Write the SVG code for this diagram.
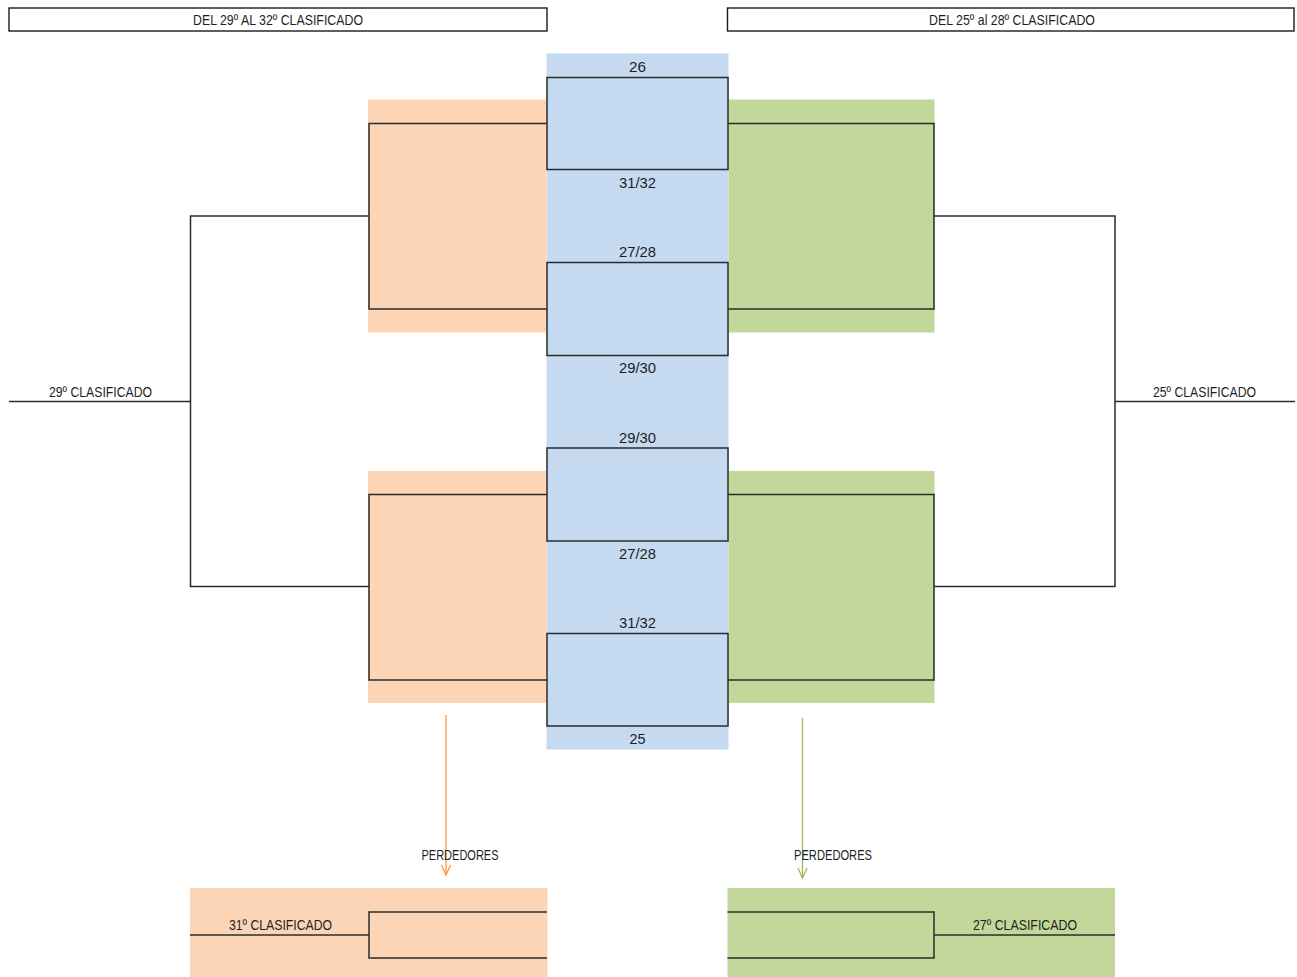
<svg xmlns="http://www.w3.org/2000/svg" width="1297" height="977" viewBox="0 0 1297 977">
<style>
  .bg{fill:#ffffff}
  .or{fill:#FBD5B5}
  .gr{fill:#C4D79B}
  .bl{fill:#C5D9F1}
  .ln{fill:none;stroke:#2b2b2b;stroke-width:1.5}
  .hdr{fill:#ffffff;stroke:#1a1a1a;stroke-width:1.4}
  .t{font-family:"Liberation Sans",Arial,sans-serif;font-size:15px;fill:#1e1e1e;text-anchor:middle}
  .arO{stroke:#F79646;stroke-width:1.3;fill:none}
  .arG{stroke:#9BBB59;stroke-width:1.3;fill:none}
</style>
<defs>
  <marker id="mO" markerUnits="userSpaceOnUse" markerWidth="12" markerHeight="12" viewBox="0 0 12 12" refX="11" refY="6" orient="auto">
    <path d="M1,1.5 L11,6 L1,10.5" class="arO"/>
  </marker>
  <marker id="mG" markerUnits="userSpaceOnUse" markerWidth="12" markerHeight="12" viewBox="0 0 12 12" refX="11" refY="6" orient="auto">
    <path d="M1,1.5 L11,6 L1,10.5" class="arG"/>
  </marker>
</defs>
<rect class="bg" x="0" y="0" width="1297" height="977"/>

<g id="header-left">
  <rect class="hdr" x="9" y="8" width="538" height="23"/>
  <text class="t" x="278" y="25" textLength="170" lengthAdjust="spacingAndGlyphs">DEL 29º AL 32º CLASIFICADO</text>
</g>
<g id="header-right">
  <rect class="hdr" x="727.5" y="8" width="566.5" height="23"/>
  <text class="t" x="1012" y="25" textLength="166" lengthAdjust="spacingAndGlyphs">DEL 25º al 28º CLASIFICADO</text>
</g>

<g id="backgrounds">
  <rect class="bl" x="546.5" y="53.5" width="182" height="696"/>
  <rect class="or" x="368" y="99.5" width="178.5" height="233"/>
  <rect class="or" x="368" y="471" width="178.5" height="232"/>
  <rect class="gr" x="728.5" y="99.5" width="206" height="233"/>
  <rect class="gr" x="728.5" y="471" width="206" height="232"/>
  <rect class="or" x="190" y="888" width="357.5" height="89"/>
  <rect class="gr" x="727.5" y="888" width="387.5" height="89"/>
</g>

<g id="match-1">
  <rect class="ln" x="547" y="77.5" width="181" height="92"/>
  <text class="t" x="637.5" y="72" textLength="17" lengthAdjust="spacingAndGlyphs">26</text>
  <text class="t" x="637.5" y="188" textLength="37" lengthAdjust="spacingAndGlyphs">31/32</text>
</g>
<g id="match-2">
  <rect class="ln" x="547" y="262.5" width="181" height="93"/>
  <text class="t" x="637.5" y="257" textLength="37" lengthAdjust="spacingAndGlyphs">27/28</text>
  <text class="t" x="637.5" y="373" textLength="37" lengthAdjust="spacingAndGlyphs">29/30</text>
</g>
<g id="match-3">
  <rect class="ln" x="547" y="448" width="181" height="93"/>
  <text class="t" x="637.5" y="443" textLength="37" lengthAdjust="spacingAndGlyphs">29/30</text>
  <text class="t" x="637.5" y="559" textLength="37" lengthAdjust="spacingAndGlyphs">27/28</text>
</g>
<g id="match-4">
  <rect class="ln" x="547" y="633.5" width="181" height="92.5"/>
  <text class="t" x="637.5" y="628" textLength="37" lengthAdjust="spacingAndGlyphs">31/32</text>
  <text class="t" x="637.5" y="744" textLength="16" lengthAdjust="spacingAndGlyphs">25</text>
</g>

<g id="connectors">
  <path class="ln" d="M547,123.5 H369 V309 H547"/>
  <path class="ln" d="M547,494.5 H369 V680 H547"/>
  <path class="ln" d="M728,123.5 H934 V309 H728"/>
  <path class="ln" d="M728,494.5 H934 V680 H728"/>
  <path class="ln" d="M369,216 H190.5 V586.5 H369"/>
  <path class="ln" d="M9,401.5 H190.5"/>
  <path class="ln" d="M934,216 H1115 V586.5 H934"/>
  <path class="ln" d="M1115,401.5 H1295"/>
  <line class="arO" x1="446" y1="715" x2="446" y2="875" marker-end="url(#mO)"/>
  <line class="arG" x1="802.5" y1="718" x2="802.5" y2="878" marker-end="url(#mG)"/>
  <path class="ln" d="M547,912 H369 V958 H547"/>
  <path class="ln" d="M190,935 H369"/>
  <path class="ln" d="M727.5,912 H934 V958 H727.5"/>
  <path class="ln" d="M934,935 H1115"/>
</g>

<g id="label-29">
  <text class="t" x="100.5" y="397" textLength="103" lengthAdjust="spacingAndGlyphs">29º CLASIFICADO</text>
</g>
<g id="label-25">
  <text class="t" x="1204.5" y="397" textLength="103" lengthAdjust="spacingAndGlyphs">25º CLASIFICADO</text>
</g>
<g id="losers-left">
  <text class="t" x="460" y="860" textLength="77" lengthAdjust="spacingAndGlyphs">PERDEDORES</text>
</g>
<g id="losers-right">
  <text class="t" x="833" y="860" textLength="78" lengthAdjust="spacingAndGlyphs">PERDEDORES</text>
</g>
<g id="label-31">
  <text class="t" x="280.5" y="930" textLength="103" lengthAdjust="spacingAndGlyphs">31º CLASIFICADO</text>
</g>
<g id="label-27">
  <text class="t" x="1025" y="930" textLength="104" lengthAdjust="spacingAndGlyphs">27º CLASIFICADO</text>
</g>
</svg>
